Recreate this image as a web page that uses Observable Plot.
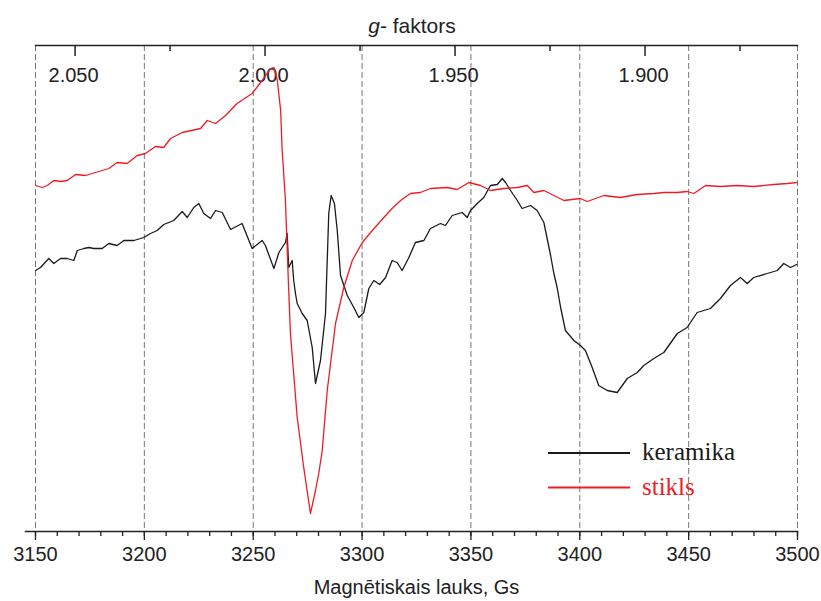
<!DOCTYPE html>
<html>
<head>
<meta charset="utf-8">
<script src="https://cdn.jsdelivr.net/npm/d3@7"></script>
<script src="https://cdn.jsdelivr.net/npm/@observablehq/plot@0.6"></script>
<style>
  html, body { margin: 0; padding: 0; background: #fff; }
</style>
</head>
<body>
<div id="chart"></div>
<script>
// Magnetic field (Gs) and signal intensity (arbitrary units)
const keramikaField = [3150.0,3152.3,3156.1,3158.4,3161.5,3164.6,3167.6,3169.2,3172.2,3174.5,3176.8,3180.6,3183.7,3187.5,3190.6,3195.2,3199.7,3202.8,3205.9,3208.9,3213.5,3217.4,3219.7,3222.7,3225.0,3227.3,3230.4,3232.7,3235.8,3239.6,3244.9,3249.5,3254.1,3255.6,3259.5,3261.8,3264.8,3265.6,3266.3,3267.9,3268.6,3269.4,3270.2,3272.5,3274.8,3277.1,3278.6,3280.9,3283.2,3284.7,3285.8,3287.3,3288.6,3290.1,3293.2,3296.2,3298.5,3300.8,3303.1,3305.4,3308.1,3310.8,3313.8,3316.1,3318.4,3321.5,3324.5,3328.4,3331.4,3336.0,3338.3,3341.4,3346.0,3348.3,3349.8,3352.9,3355.9,3359.0,3362.1,3364.4,3365.9,3368.2,3371.3,3373.5,3377.4,3380.4,3383.5,3386.6,3388.1,3389.6,3391.2,3393.4,3397.3,3400.3,3402.6,3405.7,3408.7,3412.6,3417.2,3421.8,3426.4,3429.4,3434.0,3438.6,3444.8,3449.3,3453.9,3460.0,3464.6,3469.2,3473.8,3476.9,3479.9,3486.1,3490.7,3493.7,3496.8,3499.6];
const keramikaSignal = [261,264,273,268,273,273,271,281,283,284,283,283,288,286,291,291,294,298,301,307,311,320,314,324,328,318,313,321,319,302,308,283,291,286,263,279,289,298,264,271,251,238,228,218,211,184,148,171,218,318,336,328,301,256,236,224,214,219,243,251,247,254,271,269,261,274,289,291,303,308,306,316,319,314,321,328,334,346,347,353,349,341,331,323,326,321,309,276,258,244,224,201,191,186,181,164,146,141,139,153,159,166,173,179,198,204,219,223,233,246,254,248,254,258,261,268,264,267];

const stiklsField = [3150.0,3153.1,3155.4,3158.4,3161.5,3164.6,3168.4,3173.0,3176.0,3179.1,3183.7,3187.5,3192.1,3196.7,3200.5,3205.1,3208.9,3212.0,3217.4,3225.8,3228.9,3232.7,3237.3,3242.6,3249.5,3254.1,3257.9,3259.5,3261.1,3262.6,3263.3,3264.8,3266.3,3267.1,3270.2,3273.2,3276.3,3278.6,3280.1,3281.7,3284.0,3287.8,3291.6,3295.5,3300.1,3303.9,3310.0,3313.8,3317.7,3322.2,3326.8,3331.4,3339.1,3343.7,3349.0,3354.4,3359.0,3365.1,3371.3,3375.9,3378.9,3383.5,3388.1,3392.7,3400.3,3403.4,3411.0,3418.7,3426.4,3434.0,3438.6,3444.8,3449.3,3452.4,3457.8,3464.6,3472.3,3479.9,3489.1,3495.3,3499.6];
const stiklsSignal = [346,344,346,351,350,351,357,356,358,360,363,369,368,376,378,385,384,393,399,403,411,408,416,428,438,451,463,464,451,421,381,331,241,198,114,64,18,41,58,81,141,208,244,271,289,299,314,323,331,338,339,343,344,342,349,346,341,343,344,346,339,341,336,331,333,330,336,334,337,338,339,339,340,338,346,345,346,345,347,348,349];

// Axis ticks
const fieldMajor = [3150, 3200, 3250, 3300, 3350, 3400, 3450, 3500];
const fieldMinor = d3.range(3150, 3501, 10);
const gMajor = [2.050, 2.000, 1.950, 1.900];
const gMinor = [2.025, 1.975, 1.925, 1.875];

// Position of the g-factor scale on the field axis
const gToField = g => 3168.4 + (2.05 - g) * 1745.3;

const seriesNames = ["keramika", "stikls"];
const seriesColors = ["#1a1a1a", "#ee1c24"];

const keramika = keramikaField.map((b, i) => ({b, s: keramikaSignal[i]}));
const stikls = stiklsField.map((b, i) => ({b, s: stiklsSignal[i]}));

const yMax = 486;

const chart = Plot.plot({
  width: 821,
  height: 601,
  marginLeft: 35,
  marginRight: 24,
  marginTop: 45,
  marginBottom: 70,
  style: {fontFamily: "'Liberation Sans', Arial, sans-serif", fontSize: "20px", color: "#222", background: "#fff"},
  x: {domain: [3150, 3500]},
  y: {domain: [0, yMax], axis: null},
  marks: [
    Plot.ruleX(fieldMajor, {stroke: "#777", strokeWidth: 1, strokeDasharray: "6,3"}),
    Plot.frame({anchor: "top", stroke: "#222", strokeWidth: 1.5}),
    Plot.frame({anchor: "bottom", stroke: "#222", strokeWidth: 1.5, insetLeft: -10}),
    Plot.axisX({anchor: "bottom", ticks: fieldMinor, tickSize: 5, tickFormat: () => "", label: null, stroke: "#222", strokeWidth: 1.3}),
    Plot.axisX({anchor: "bottom", ticks: fieldMajor, tickSize: 9, tickPadding: 6, tickFormat: d => String(d), fontSize: 20, label: null, stroke: "#222", strokeWidth: 1.3}),
    Plot.text(gMajor, {x: gToField, text: d => d.toFixed(3), frameAnchor: "top", lineAnchor: "middle", dy: 30, dx: -2, fontSize: 20, fill: "#222"}),
    Plot.text(["Magnētiskais lauks, Gs"], {frameAnchor: "bottom", lineAnchor: "middle", dy: 56, fontSize: 20, fill: "#222"}),
    Plot.line(keramika, {x: "b", y: "s", stroke: seriesColors[0], strokeWidth: 1.3}),
    Plot.line(stikls, {x: "b", y: "s", stroke: seriesColors[1], strokeWidth: 1.3})
  ]
});

const svg = d3.select(chart);
const xs = chart.scale("x");
const frameTop = 45;

// Top g-factor ticks (pointing into the plot), placed with the chart's own x scale
const gTicks = svg.append("g").attr("stroke", "#222").attr("stroke-width", 1.5);
gMajor.forEach(g => {
  const px = xs.apply(gToField(g));
  gTicks.append("line").attr("x1", px).attr("x2", px).attr("y1", frameTop).attr("y2", frameTop + 11);
});
gMinor.forEach(g => {
  const px = xs.apply(gToField(g));
  gTicks.append("line").attr("x1", px).attr("x2", px).attr("y1", frameTop).attr("y2", frameTop + 6);
});

// Title with italic g
const title = svg.append("text")
  .attr("x", 412).attr("y", 33)
  .attr("text-anchor", "middle")
  .attr("font-family", "'Liberation Sans', Arial, sans-serif")
  .attr("font-size", 21)
  .attr("fill", "#222");
title.append("tspan").attr("font-style", "italic").text("g");
title.append("tspan").text("- faktors");

// Legend
const legend = svg.append("g");
seriesNames.forEach((name, i) => {
  const y = 453 + i * 34.5;
  legend.append("line").attr("x1", 548).attr("x2", 630).attr("y1", y).attr("y2", y)
    .attr("stroke", seriesColors[i]).attr("stroke-width", 2);
  legend.append("text").attr("x", 642).attr("y", y + 7)
    .attr("text-anchor", "start")
    .attr("font-family", "'Liberation Serif', 'Times New Roman', serif")
    .attr("font-size", 25)
    .attr("fill", seriesColors[i])
    .text(name);
});

document.getElementById("chart").appendChild(chart);
</script>
</body>
</html>
